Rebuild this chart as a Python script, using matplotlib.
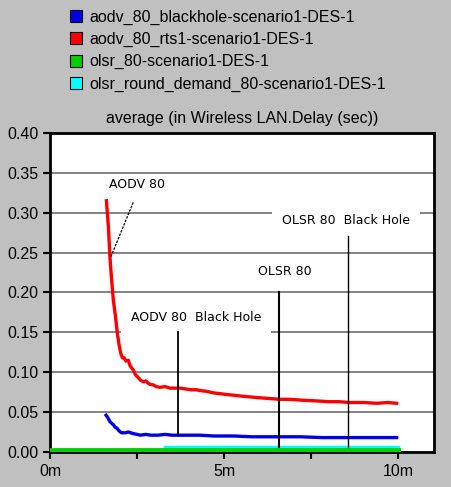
import matplotlib.pyplot as plt
from matplotlib.patches import Patch
from matplotlib.ticker import MultipleLocator

# Series data (time in minutes, delay in seconds)
red_t = [1.62, 1.68, 1.72, 1.77, 1.82, 1.88, 1.93, 1.98, 2.03, 2.08, 2.13, 2.18,
         2.25, 2.30, 2.35, 2.39, 2.45, 2.54, 2.60, 2.68, 2.75, 2.85, 2.97, 3.05,
         3.16, 3.30, 3.45, 3.60, 3.74, 3.90, 4.05, 4.20, 4.31, 4.50, 4.70, 4.90,
         5.08, 5.30, 5.50, 5.75, 6.00, 6.30, 6.61, 6.90, 7.20, 7.66, 8.00, 8.30,
         8.62, 9.00, 9.40, 9.70, 9.96]
red_v = [0.315, 0.280, 0.245, 0.215, 0.190, 0.170, 0.150, 0.135, 0.124, 0.118, 0.118, 0.114,
         0.115, 0.108, 0.105, 0.103, 0.097, 0.093, 0.090, 0.088, 0.089, 0.085, 0.084, 0.082,
         0.081, 0.082, 0.080, 0.080, 0.080, 0.079, 0.078, 0.078, 0.077, 0.076, 0.074, 0.073,
         0.072, 0.071, 0.070, 0.069, 0.068, 0.067, 0.066, 0.066, 0.065, 0.064, 0.063, 0.063,
         0.062, 0.062, 0.061, 0.062, 0.061]

blue_t = [1.61, 1.66, 1.72, 1.77, 1.82, 1.87, 1.92, 1.97, 2.02, 2.06, 2.15, 2.25,
          2.39, 2.50, 2.59, 2.75, 2.90, 3.10, 3.30, 3.50, 3.80, 4.00, 4.31, 4.70,
          5.27, 5.80, 6.20, 6.61, 7.20, 7.80, 8.50, 9.20, 9.96]
blue_v = [0.046, 0.043, 0.038, 0.036, 0.034, 0.031, 0.030, 0.027, 0.025, 0.024, 0.024, 0.025,
          0.023, 0.022, 0.021, 0.022, 0.021, 0.021, 0.022, 0.021, 0.021, 0.021, 0.021, 0.020,
          0.020, 0.019, 0.019, 0.019, 0.019, 0.018, 0.018, 0.018, 0.018]

green_t = [0.0, 10.0]
green_v = [0.003, 0.003]
cyan_t = [3.3, 10.0]
cyan_v = [0.006, 0.006]

legend_labels = ['aodv_80_blackhole-scenario1-DES-1',
                 'aodv_80_rts1-scenario1-DES-1',
                 'olsr_80-scenario1-DES-1',
                 'olsr_round_demand_80-scenario1-DES-1']
colors = ['#0000e8', '#ff0000', '#00d000', '#00ffff']

x_ticks = [0, 5, 10]
x_ticklabels = ['0m', '5m', '10m']

bg = '#c0c0c0'
plt.rcParams['font.family'] = ['Liberation Sans', 'DejaVu Sans']

fig = plt.figure(figsize=(4.51, 4.87), dpi=100, facecolor=bg)
ax = fig.add_axes([0.111, 0.072, 0.851, 0.655])
ax.set_facecolor('white')

# grid
ax.yaxis.grid(True, color='#7a7a7a', linewidth=1.3)
ax.set_axisbelow(True)

# series
ax.plot(cyan_t, cyan_v, color=colors[3], linewidth=2.5, zorder=3)
ax.plot(green_t, green_v, color=colors[2], linewidth=3.5, zorder=3)
ax.plot(blue_t, blue_v, color=colors[0], linewidth=2.4, zorder=3)
ax.plot(red_t, red_v, color=colors[1], linewidth=2.4, zorder=3)

ax.set_xlim(0, 11.03)
ax.set_ylim(0, 0.40)
ax.yaxis.set_major_locator(MultipleLocator(0.05))
ax.yaxis.set_major_formatter(plt.FormatStrFormatter('%.2f'))
ax.set_xticks(x_ticks)
ax.set_xticklabels(x_ticklabels)
ax.xaxis.set_minor_locator(MultipleLocator(2.5))
ax.tick_params(axis='both', which='both', direction='out', length=5, width=1.5,
               labelsize=11.5, colors='black')
for s in ax.spines.values():
    s.set_linewidth(2)

ax.set_title('average (in Wireless LAN.Delay (sec))', fontsize=11.5, pad=7)

# annotations
ax.text(2.5, 0.335, 'AODV 80', ha='center', va='center', fontsize=9,
        family='DejaVu Sans', bbox=dict(facecolor='white', edgecolor='none', pad=1.5), zorder=5)
ax.plot([2.39, 1.75], [0.313, 0.245], color='black', linewidth=0.9,
        linestyle=(0, (2, 1)), zorder=5)

ax.text(8.5, 0.29, 'OLSR 80  Black Hole', ha='center', va='center', fontsize=9,
        family='DejaVu Sans', bbox=dict(facecolor='white', edgecolor='none', pad=7), zorder=2.5)
ax.plot([8.56, 8.56], [0.271, 0.006], color='black', linewidth=1, zorder=4)

ax.text(6.75, 0.226, 'OLSR 80', ha='center', va='center', fontsize=9,
        family='DejaVu Sans', bbox=dict(facecolor='white', edgecolor='none', pad=5), zorder=2.5)
ax.plot([6.59, 6.59], [0.20, 0.006], color='black', linewidth=1.5, zorder=4)

ax.text(4.2, 0.168, 'AODV 80  Black Hole', ha='center', va='center', fontsize=9,
        family='DejaVu Sans', bbox=dict(facecolor='white', edgecolor='none', pad=7), zorder=2.5)
ax.plot([3.69, 3.69], [0.15, 0.021], color='black', linewidth=1.3, zorder=4)

# legend
handles = [Patch(facecolor=c, edgecolor='black', linewidth=0.8) for c in colors]
fig.legend(handles, legend_labels, loc='upper left', bbox_to_anchor=(0.135, 1.0),
           frameon=False, fontsize=11.5, handlelength=0.75, handleheight=0.75,
           handletextpad=0.45, labelspacing=0.45, borderaxespad=0.2)

fig.savefig('out.png', dpi=100, facecolor=bg)
